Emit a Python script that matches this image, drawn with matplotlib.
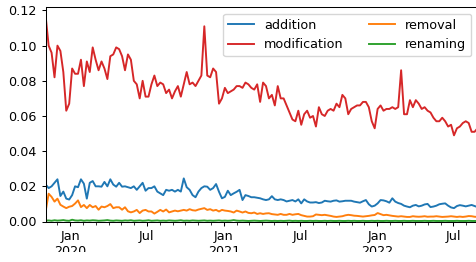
import numpy as np
import pandas as pd
import matplotlib
matplotlib.use("Agg")
import matplotlib.pyplot as plt
import matplotlib.dates as mdates
from matplotlib.transforms import Bbox, TransformedBbox

start_date = "2019-11-03"
n_weeks = 148

addition = [
    0.021, 0.019, 0.020, 0.022, 0.024, 0.0145, 0.017, 0.013, 0.0125, 0.015,
    0.020, 0.0195, 0.024, 0.0215, 0.013, 0.022, 0.023, 0.020, 0.020, 0.0198,
    0.0225, 0.020, 0.024, 0.021, 0.0198, 0.022, 0.0198, 0.020, 0.0195, 0.019,
    0.020, 0.018, 0.020, 0.022, 0.0175, 0.019, 0.019, 0.020, 0.017, 0.016,
    0.015, 0.018, 0.0175, 0.018, 0.017, 0.018, 0.017, 0.0245, 0.0195, 0.018,
    0.015, 0.0138, 0.017, 0.019, 0.020, 0.0198, 0.018, 0.019, 0.0213, 0.0169,
    0.0132, 0.014, 0.0175, 0.015, 0.016, 0.0169, 0.018, 0.0122, 0.015, 0.0145,
    0.0138, 0.0138, 0.0135, 0.0132, 0.0126, 0.0122, 0.0126, 0.0144, 0.0126, 0.0122,
    0.0126, 0.0122, 0.0114, 0.0118, 0.0122, 0.0114, 0.0126, 0.0103, 0.0126, 0.0114,
    0.0108, 0.0108, 0.0110, 0.0105, 0.0108, 0.0118, 0.0115, 0.0113, 0.0118, 0.0120,
    0.0113, 0.0115, 0.0118, 0.0118, 0.0118, 0.0113, 0.0110, 0.0107, 0.0115, 0.0122,
    0.0098, 0.0085, 0.0090, 0.0103, 0.0122, 0.0120, 0.0115, 0.0107, 0.0132, 0.0113,
    0.0105, 0.0100, 0.0090, 0.0085, 0.0081, 0.0090, 0.0094, 0.0086, 0.0090, 0.0097,
    0.0100, 0.0082, 0.0085, 0.0090, 0.0098, 0.0101, 0.0103, 0.0090, 0.0080, 0.0076,
    0.0088, 0.0093, 0.0090, 0.0086, 0.0090, 0.0094, 0.0088, 0.0082,
]

modification = [
    0.1165, 0.100, 0.096, 0.082, 0.100, 0.097, 0.085, 0.063, 0.067, 0.087,
    0.084, 0.084, 0.092, 0.077, 0.091, 0.085, 0.099, 0.092, 0.086, 0.091,
    0.087, 0.081, 0.094, 0.095, 0.099, 0.098, 0.094, 0.086, 0.095, 0.092,
    0.080, 0.078, 0.070, 0.080, 0.071, 0.071, 0.078, 0.083, 0.077, 0.079,
    0.078, 0.073, 0.075, 0.070, 0.074, 0.077, 0.071, 0.078, 0.085, 0.078,
    0.079, 0.077, 0.080, 0.083, 0.111, 0.083, 0.082, 0.087, 0.085, 0.067,
    0.070, 0.076, 0.073, 0.074, 0.075, 0.077, 0.077, 0.076, 0.079, 0.078,
    0.076, 0.075, 0.078, 0.068,
    0.079, 0.077, 0.070, 0.072, 0.066, 0.077, 0.070, 0.070, 0.066, 0.062,
    0.058, 0.057, 0.063, 0.055, 0.061, 0.063, 0.059, 0.060, 0.054, 0.065,
    0.061, 0.060, 0.063, 0.064, 0.063, 0.067, 0.065, 0.072, 0.070, 0.061,
    0.064, 0.065, 0.066, 0.066, 0.068, 0.068, 0.065, 0.057, 0.053, 0.064,
    0.066, 0.063, 0.064, 0.064, 0.065, 0.064, 0.065, 0.086, 0.061, 0.061,
    0.069, 0.065, 0.069, 0.067, 0.064, 0.065, 0.063, 0.062, 0.059, 0.057,
    0.057, 0.059, 0.057, 0.054, 0.055, 0.049, 0.053, 0.054, 0.056, 0.057,
    0.056, 0.051, 0.051, 0.053,
]

removal = [
    0.006, 0.0158, 0.0140, 0.0113, 0.0130, 0.0095, 0.0085, 0.0076, 0.0084, 0.0088,
    0.0102, 0.0120, 0.0082, 0.0094, 0.0076, 0.0094, 0.0081, 0.0088, 0.0067, 0.0085,
    0.0081, 0.0088, 0.0099, 0.0076, 0.0081, 0.0081, 0.0067, 0.0081, 0.0058, 0.0052,
    0.0057, 0.0066, 0.0048, 0.0062, 0.0066, 0.0057, 0.0057, 0.0045, 0.0055, 0.0066,
    0.0057, 0.0068, 0.0052, 0.0057, 0.0062, 0.0058, 0.0062, 0.0066, 0.0062, 0.0070,
    0.0064, 0.0062, 0.0068, 0.0072, 0.0076, 0.0066, 0.0070, 0.0062, 0.0066, 0.0057,
    0.0066, 0.0062, 0.0060, 0.0057, 0.0051, 0.0062, 0.0057, 0.0051, 0.0057, 0.0049,
    0.0047, 0.0051, 0.0043, 0.0047, 0.0043, 0.0046, 0.0047, 0.0042, 0.0040, 0.0038,
    0.0043, 0.0038, 0.0038, 0.0043, 0.0038, 0.0041, 0.0043, 0.0036, 0.0032, 0.0028,
    0.0028, 0.0030, 0.0040, 0.0038, 0.0036, 0.0038, 0.0035, 0.0032, 0.0028, 0.0026,
    0.0028, 0.0030, 0.0035, 0.0038, 0.0036, 0.0033, 0.0032, 0.0030, 0.0028, 0.0030,
    0.0032, 0.0035, 0.0037, 0.0048, 0.0042, 0.0036, 0.0038, 0.0035, 0.0032, 0.0030,
    0.0028, 0.0030, 0.0028, 0.0026, 0.0026, 0.0030, 0.0028, 0.0027, 0.0028, 0.0030,
    0.0027, 0.0028, 0.0028, 0.0030, 0.0028, 0.0026, 0.0027, 0.0028, 0.0030, 0.0028,
    0.0026, 0.0028, 0.0026, 0.0028, 0.0031, 0.0030, 0.0027, 0.0026,
]

renaming = [
    0.0005, 0.0006, 0.0004, 0.0007, 0.0005, 0.0006, 0.0008, 0.0005, 0.0004, 0.0010,
    0.0006, 0.0005, 0.0007, 0.0004, 0.0006, 0.0005, 0.0007, 0.0006, 0.0004, 0.0005,
    0.0006, 0.0008, 0.0005, 0.0004, 0.0006, 0.0005, 0.0004, 0.0006, 0.0005, 0.0007,
    0.0004, 0.0005, 0.0006, 0.0004, 0.0005, 0.0007, 0.0004, 0.0005, 0.0006, 0.0004,
    0.0005, 0.0004, 0.0006, 0.0005, 0.0004, 0.0005, 0.0007, 0.0004, 0.0005, 0.0004,
    0.0006, 0.0005, 0.0004, 0.0005, 0.0006, 0.0004, 0.0005, 0.0004, 0.0005, 0.0006,
    0.0004, 0.0005, 0.0004, 0.0005, 0.0008, 0.0005, 0.0004, 0.0005, 0.0004, 0.0003,
    0.0004, 0.0005, 0.0004, 0.0003, 0.0004, 0.0005, 0.0004, 0.0003, 0.0004, 0.0003,
    0.0004, 0.0003, 0.0004, 0.0005, 0.0003, 0.0004, 0.0003, 0.0004, 0.0003, 0.0003,
    0.0004, 0.0003, 0.0004, 0.0003, 0.0003, 0.0004, 0.0003, 0.0004, 0.0003, 0.0003,
    0.0004, 0.0003, 0.0003, 0.0004, 0.0003, 0.0004, 0.0003, 0.0003, 0.0004, 0.0003,
    0.0003, 0.0004, 0.0003, 0.0004, 0.0003, 0.0003, 0.0004, 0.0003, 0.0003, 0.0004,
    0.0003, 0.0003, 0.0004, 0.0003, 0.0003, 0.0004, 0.0003, 0.0003, 0.0003, 0.0004,
    0.0003, 0.0003, 0.0004, 0.0003, 0.0003, 0.0003, 0.0004, 0.0003, 0.0003, 0.0003,
    0.0004, 0.0003, 0.0003, 0.0003, 0.0004, 0.0003, 0.0003, 0.0003,
]

series_names = ["addition", "modification", "removal", "renaming"]
series_colors = ["#1f77b4", "#d62728", "#ff7f0e", "#2ca02c"]

major_tick_dates = ["2020-01-01", "2020-07-01", "2021-01-01", "2021-07-01", "2022-01-01", "2022-07-01"]
major_tick_labels = ["Jan\n2020", "Jul", "Jan\n2021", "Jul", "Jan\n2022", "Jul"]
y_ticks = [0.00, 0.02, 0.04, 0.06, 0.08, 0.10, 0.12]

dates = pd.date_range(start_date, periods=n_weeks, freq="7D")

FS = 9.2
S = 0.92
plt.rcParams["font.family"] = ["DejaVu Sans"]
plt.rcParams["font.size"] = FS

fig = plt.figure(figsize=(4.76, 2.62), dpi=100)
W, H = 476.0, 262.0
left_px, right_px, top_px, bottom_px = 45.7, 477.5, 7.3, 221.5
ax = fig.add_axes([left_px / W, 1 - bottom_px / H,
                   (right_px - left_px) / W, (bottom_px - top_px) / H])

for name, vals, col in zip(series_names, [addition, modification, removal, renaming], series_colors):
    ax.plot(dates, vals, color=col, lw=1.5 * S, label=name)

ax.set_xlim(dates[0], dates[-1])
ax.set_ylim(0, 0.1218)
ax.set_yticks(y_ticks)
ax.set_yticklabels([f"{v:.2f}" for v in y_ticks])

ax.set_xticks(pd.to_datetime(major_tick_dates))
ax.set_xticklabels(major_tick_labels)
ax.xaxis.set_minor_locator(mdates.MonthLocator())
ax.xaxis.set_minor_formatter(plt.NullFormatter())

ax.tick_params(axis="both", which="major", length=3.5 * S, width=0.8 * S, pad=3.5 * S, labelsize=FS)
ax.tick_params(axis="both", which="minor", length=2.0 * S, width=0.6 * S)
for sp in ax.spines.values():
    sp.set_linewidth(0.8 * S)

# the reference image cuts the x tick labels off a little above its bottom edge
clip = TransformedBbox(Bbox([[0, 10.0 / H], [1, 1]]), fig.transFigure)
for lab in ax.get_xticklabels():
    lab.set_clip_box(clip)
    lab.set_clip_on(True)

ax.legend(loc="upper right", ncol=2, fontsize=FS, borderaxespad=0.5)

fig.savefig("out.png", dpi=100)
